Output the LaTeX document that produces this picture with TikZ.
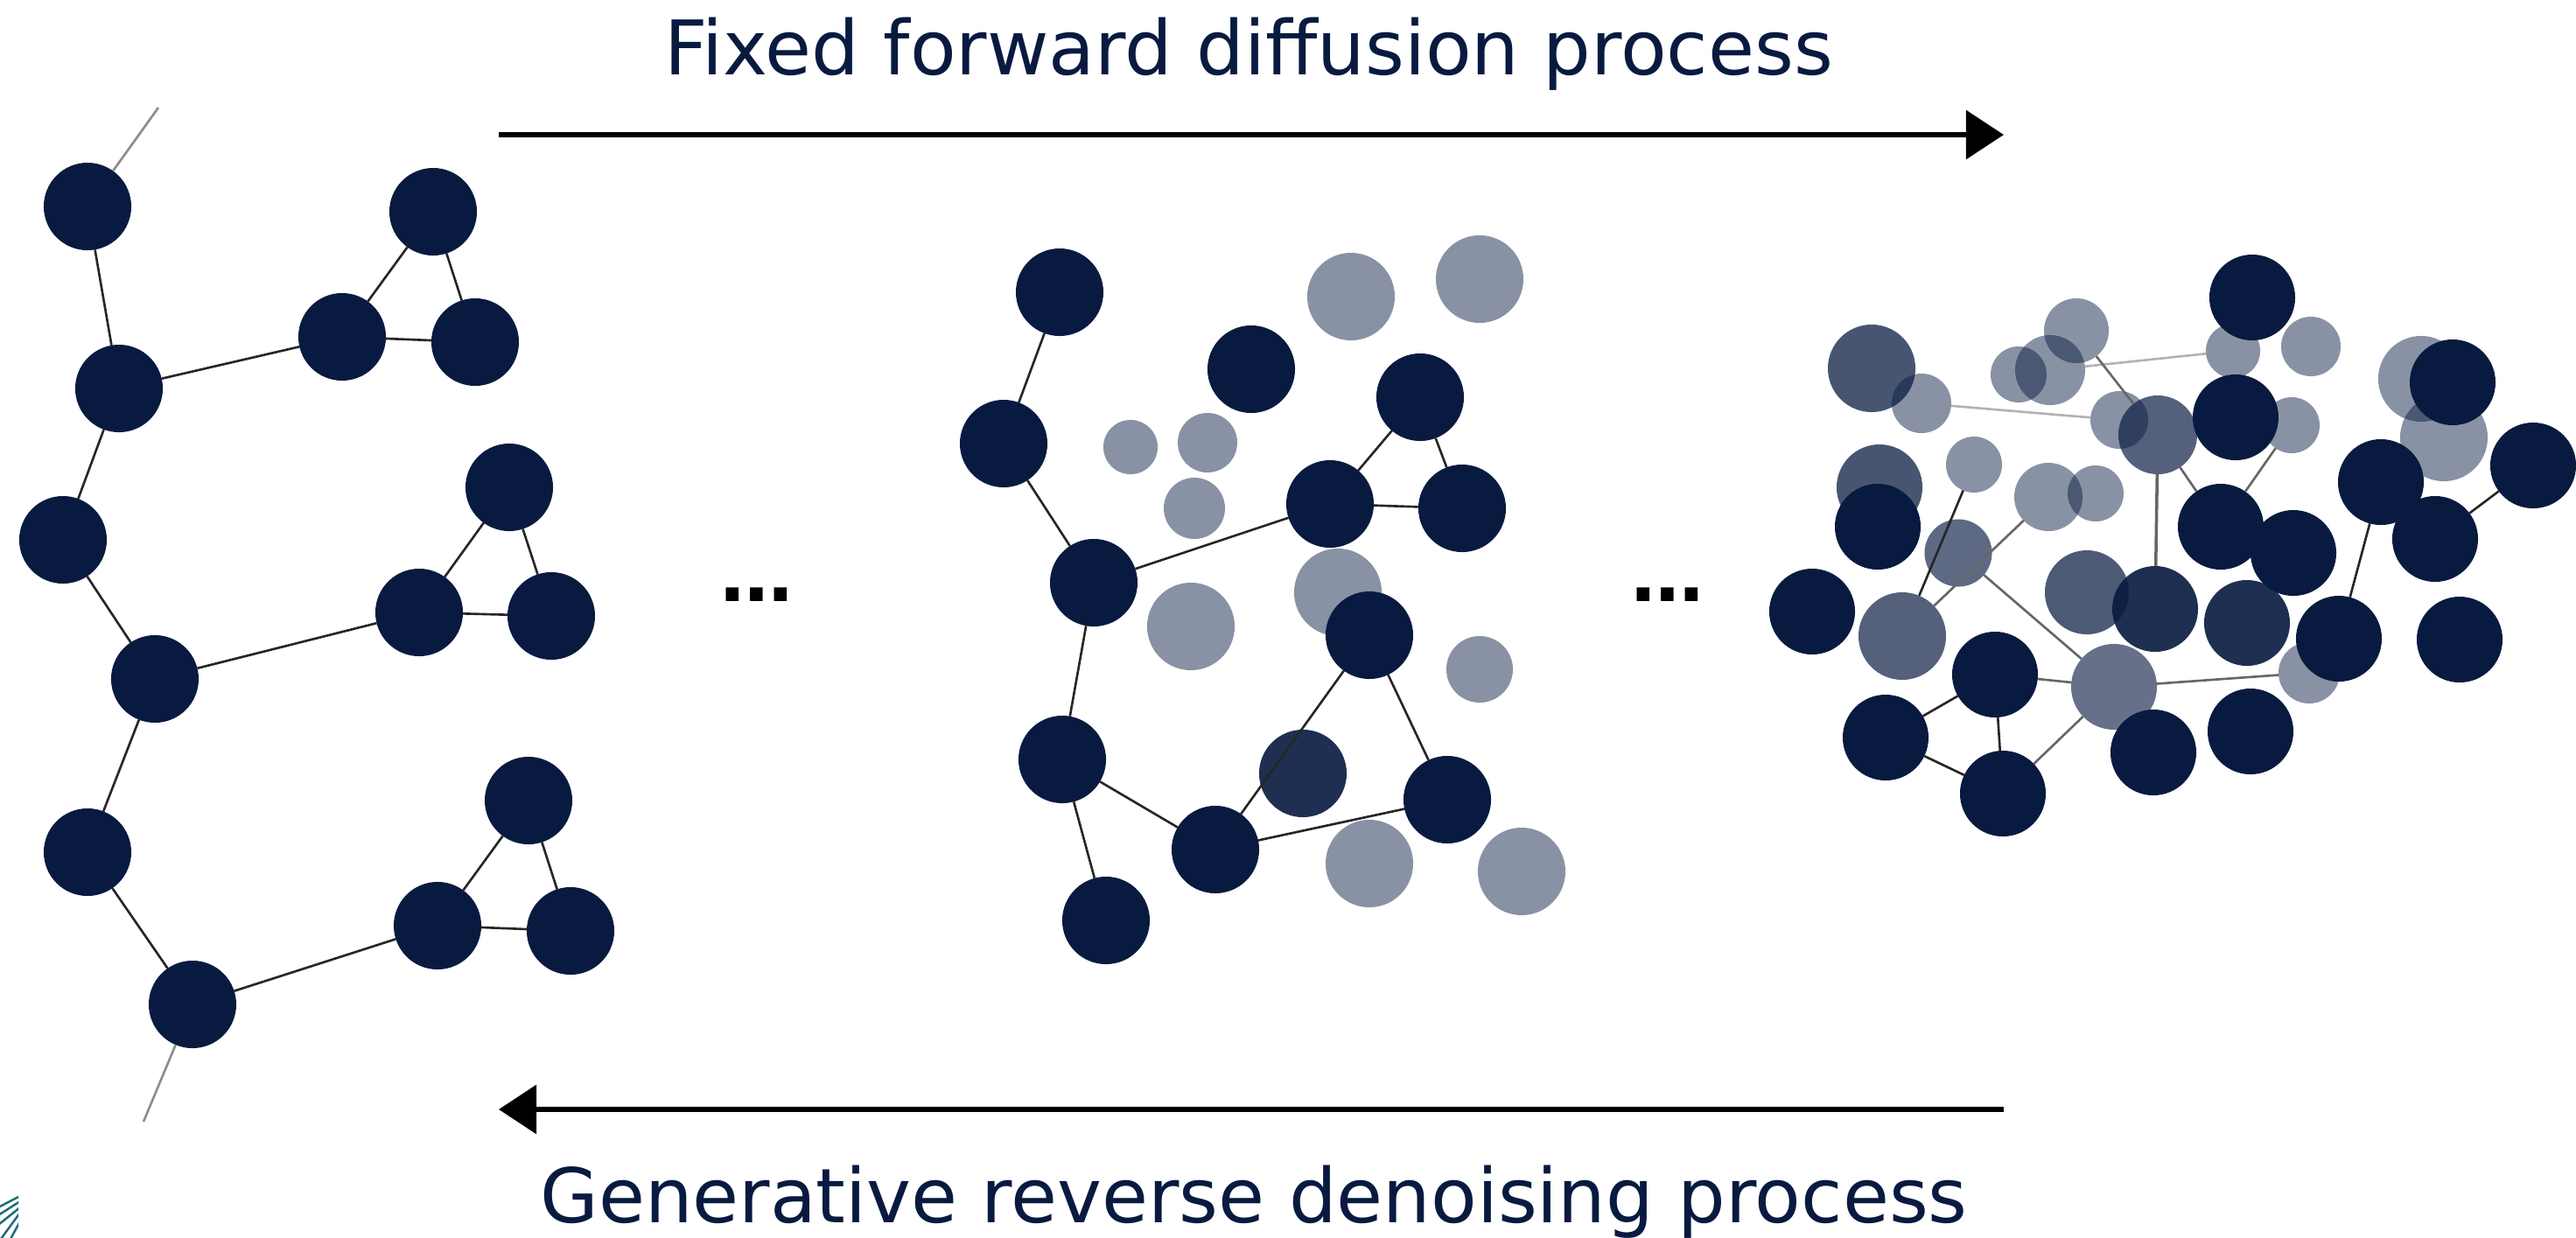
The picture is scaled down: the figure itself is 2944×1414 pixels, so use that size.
\documentclass[tikz,border=0pt]{standalone}
\usepackage{fontspec}
\setmainfont{DejaVu Sans}
\usetikzlibrary{arrows.meta}
\definecolor{navy}{RGB}{8,26,64}
\definecolor{tealmark}{RGB}{30,107,120}
\tikzset{
  ball/.style={circle, inner sep=0pt, outer sep=0pt, draw=none, fill=navy, minimum size=#1},
  ball/.default={1cm},
  op/.style={fill opacity=#1},
  bond/.style={draw=black!85, line width=0.75pt},
  faint/.style={draw=black!30, line width=0.75pt},
  midb/.style={draw=black!60, line width=0.75pt},
  tail/.style={draw=black!45, line width=0.75pt},
  bigarrow/.style={line width=1.7pt, -{Triangle[length=0.43cm,width=0.55cm]}},
  label/.style={anchor=base, text=navy, font=\fontsize{24.5}{28}\selectfont},
  dots/.style={anchor=base, text=black, font=\bfseries\fontsize{23.5}{28}\selectfont},
  logo/.style={draw=tealmark, line width=0.7pt}
}
\begin{document}
\begin{tikzpicture}[x=0.01cm, y=-0.01cm]
\useasboundingbox (0,0) rectangle (2944,1414);

% ---------- texts and arrows ----------
\node[label] (ttop) at (1427,85) {Fixed forward diffusion process};
\node[label] (tbot) at (1433,1397) {Generative reverse denoising process};
\coordinate (fa) at (570,154);
\coordinate (fb) at (2290,154);
\coordinate (ra) at (2290,1268);
\coordinate (rb) at (570,1268);
\draw[bigarrow] (fa) -- (fb);
\draw[bigarrow] (ra) -- (rb);
\node[dots] (dl) at (865,687) {…};
\node[dots] (dr) at (1906,687) {…};

% ---------- left molecule ----------
\node[ball] (A1) at (100,236) {};
\node[ball] (A2) at (136,444) {};
\node[ball] (A3) at (72,617) {};
\node[ball] (A4) at (177,776) {};
\node[ball] (A5) at (100,974) {};
\node[ball] (A6) at (220,1148) {};
\node[ball] (B1) at (391,385) {};
\node[ball] (B2) at (495,242) {};
\node[ball] (B3) at (543,391) {};
\node[ball] (C1) at (479,700) {};
\node[ball] (C2) at (582,557) {};
\node[ball] (C3) at (630,704) {};
\node[ball] (E1) at (500,1058) {};
\node[ball] (E2) at (604,915) {};
\node[ball] (E3) at (652,1064) {};
\coordinate (t1) at (181,123);
\coordinate (t2) at (164,1282);
\draw[tail] (A1) -- (t1);
\draw[tail] (A6) -- (t2);
\draw[bond] (A1) -- (A2);
\draw[bond] (A2) -- (A3);
\draw[bond] (A3) -- (A4);
\draw[bond] (A4) -- (A5);
\draw[bond] (A5) -- (A6);
\draw[bond] (A2) -- (B1);
\draw[bond] (B1) -- (B2);
\draw[bond] (B2) -- (B3);
\draw[bond] (B1) -- (B3);
\draw[bond] (A4) -- (C1);
\draw[bond] (C1) -- (C2);
\draw[bond] (C2) -- (C3);
\draw[bond] (C1) -- (C3);
\draw[bond] (A6) -- (E1);
\draw[bond] (E1) -- (E2);
\draw[bond] (E2) -- (E3);
\draw[bond] (E1) -- (E3);

% ---------- middle molecule ----------
\node[ball=1cm, op=0.48] (L1) at (1544,339) {};
\node[ball=1cm, op=0.48] (L2) at (1691,319) {};
\node[ball=0.62cm, op=0.48] (L3) at (1292,511) {};
\node[ball=0.68cm, op=0.48] (L4) at (1380,506) {};
\node[ball=0.70cm, op=0.48] (L5) at (1365,581) {};
\node[ball=1cm, op=0.48] (L6) at (1361,716) {};
\node[ball=1cm, op=0.48] (L7) at (1529,677) {};
\node[ball=0.76cm, op=0.48] (L8) at (1691,765) {};
\node[ball=1cm, op=0.48] (L9) at (1565,987) {};
\node[ball=1cm, op=0.48] (L10) at (1739,996) {};
\node[ball=1cm, op=0.91] (MD) at (1489,884) {};
\node[ball] (M1) at (1211,334) {};
\node[ball] (M2) at (1147,507) {};
\node[ball] (M3) at (1430,422) {};
\node[ball] (M4) at (1623,454) {};
\node[ball] (M5) at (1520,576) {};
\node[ball] (M6) at (1671,581) {};
\node[ball] (M7) at (1250,666) {};
\node[ball] (M8) at (1565,726) {};
\node[ball] (M9) at (1214,868) {};
\node[ball] (M10) at (1389,971) {};
\node[ball] (M11) at (1654,914) {};
\node[ball] (M12) at (1264,1052) {};
\draw[bond] (M1) -- (M2);
\draw[bond] (M2) -- (M7);
\draw[bond] (M7) -- (M5);
\draw[bond] (M5) -- (M4);
\draw[bond] (M4) -- (M6);
\draw[bond] (M5) -- (M6);
\draw[bond] (M7) -- (M9);
\draw[bond] (M9) -- (M10);
\draw[bond] (M9) -- (M12);
\draw[bond] (M10) -- (M8);
\draw[bond] (M8) -- (M11);
\draw[bond] (M10) -- (M11);

% ---------- right cloud ----------
\node[ball=0.68cm, op=0.48] (P1) at (2196,461) {};
\node[ball=0.64cm, op=0.48] (P2) at (2307,428) {};
\node[ball=0.80cm, op=0.48] (P3) at (2343,423) {};
\node[ball=0.74cm, op=0.48] (P4) at (2373,378) {};
\node[ball=0.62cm, op=0.48] (P5) at (2552,401) {};
\node[ball=0.68cm, op=0.48] (P6) at (2641,396) {};
\node[ball=0.66cm, op=0.48] (P7) at (2422,480) {};
\node[ball=0.64cm, op=0.48] (P8) at (2619,486) {};
\node[ball=0.98cm, op=0.48] (P9) at (2767,433) {};
\node[ball=1cm, op=0.48] (P10) at (2793,500) {};
\node[ball=0.64cm, op=0.48] (P11) at (2256,531) {};
\node[ball=0.78cm, op=0.48] (P12) at (2341,568) {};
\node[ball=0.64cm, op=0.48] (P13) at (2395,564) {};
\node[ball=0.70cm, op=0.48] (P14) at (2639,769) {};
\node[ball=1cm, op=0.74] (G1) at (2139,421) {};
\node[ball=0.98cm, op=0.74] (G2) at (2148,557) {};
\node[ball=0.96cm, op=0.72] (G3) at (2385,677) {};
\node[ball=1cm, op=0.69] (G4) at (2174,727) {};
\node[ball=0.90cm, op=0.69] (G5) at (2466,497) {};
\node[ball=0.98cm, op=0.62] (G6) at (2416,785) {};
\node[ball=0.77cm, op=0.65] (G7) at (2238,632) {};
\node[ball=0.98cm, op=0.91] (D1) at (2463,696) {};
\node[ball=0.98cm, op=0.91] (D2) at (2568,712) {};
\node[ball=0.98cm] (R1) at (2574,340) {};
\node[ball=0.98cm] (R2) at (2555,477) {};
\node[ball=0.98cm] (R3) at (2803,437) {};
\node[ball=0.98cm] (R4) at (2895,532) {};
\node[ball=0.98cm] (R5) at (2721,551) {};
\node[ball=0.98cm] (R6) at (2783,616) {};
\node[ball=0.98cm] (R7) at (2538,602) {};
\node[ball=0.98cm] (R8) at (2621,632) {};
\node[ball=0.98cm] (R9) at (2146,602) {};
\node[ball=0.98cm] (R10) at (2071,699) {};
\node[ball=0.98cm] (R11) at (2673,730) {};
\node[ball=0.98cm] (R12) at (2811,731) {};
\node[ball=0.98cm] (R13) at (2280,771) {};
\node[ball=0.98cm] (R14) at (2155,843) {};
\node[ball=0.98cm] (R15) at (2289,907) {};
\node[ball=0.98cm] (R16) at (2461,860) {};
\node[ball=0.98cm] (R17) at (2572,836) {};
\draw[faint] (P1) -- (P7);
\draw[faint] (P3) -- (P5);
\draw[midb] (P4) -- (G5);
\draw[midb, line width=1pt] (G5) -- (D1);
\draw[midb] (G5) -- (R7);
\draw[midb] (P8) -- (R7);
\draw[bond] (P11) -- (G4);
\draw[midb] (P12) -- (G4);
\draw[midb] (G7) -- (G6);
\draw[midb] (R13) -- (G6);
\draw[midb] (G6) -- (P14);
\draw[midb] (G6) -- (R15);
\draw[bond] (R13) -- (R14);
\draw[bond] (R13) -- (R15);
\draw[bond] (R14) -- (R15);
\draw[bond] (R5) -- (R11);
\draw[bond] (R6) -- (R4);

% ---------- logo fragment, bottom left ----------
\begin{scope}
\clip (0,1355) rectangle (21,1414);
\draw[logo] (-2,1380) -- (23,1367);
\draw[logo] (-2,1389) -- (23,1373);
\draw[logo] (-2,1400) -- (23,1380);
\draw[logo] (1,1416) -- (23,1386);
\draw[logo] (12,1416) -- (23,1396);
\end{scope}
\end{tikzpicture}
\end{document}
